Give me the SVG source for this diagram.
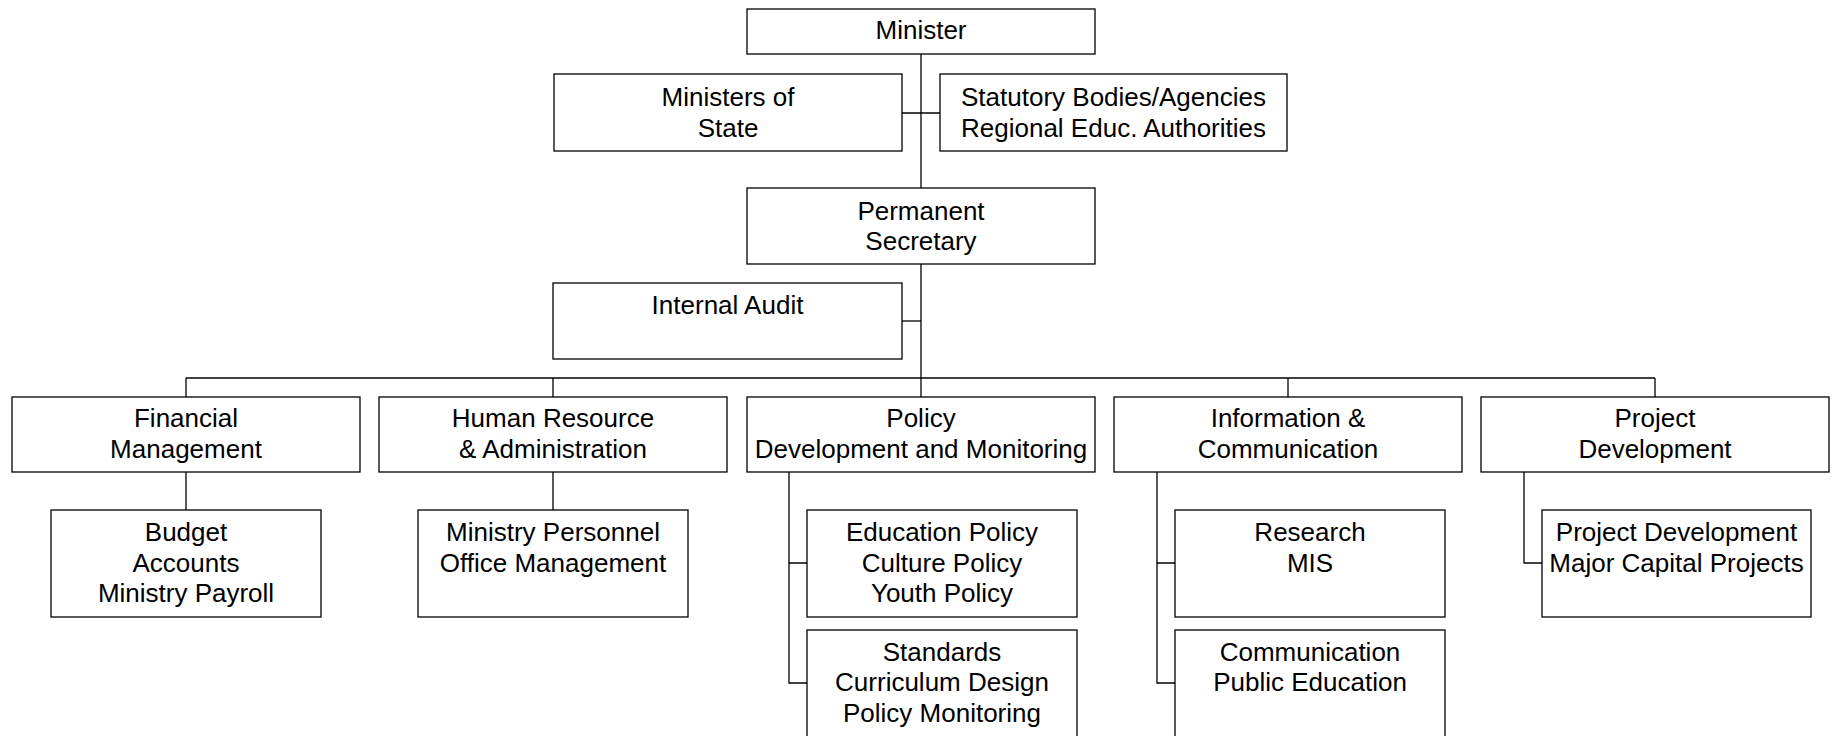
<svg xmlns="http://www.w3.org/2000/svg" width="1834" height="736" viewBox="0 0 1834 736">
<style>
  rect.box { fill: #ffffff; stroke: #000000; stroke-width: 1.3; }
  text { font-family: "Liberation Sans", Arial, sans-serif; font-size: 26px; fill: #000000; text-anchor: middle; }
  .conn path { fill: none; stroke: #000000; stroke-width: 1.3; }
</style>
<rect x="0" y="0" width="1834" height="736" fill="#ffffff"/>
<g class="conn" id="connectors">
  <path d="M921,54 V397"/>
  <path d="M902,113 H940"/>
  <path d="M902,321 H921"/>
  <path d="M186,378 H1655"/>
  <path d="M186,378 V397"/>
  <path d="M553,378 V397"/>
  <path d="M1288,378 V397"/>
  <path d="M1655,378 V397"/>
  <path d="M186,472 V510"/>
  <path d="M553,472 V510"/>
  <path d="M807,563 H789 V683 H807"/>
  <path d="M1175,563 H1157 V683 H1175"/>
  <path d="M1524,472 V563 H1542"/>
  <path d="M789,472 V563"/>
  <path d="M1157,472 V563"/>
</g>
<g id="minister"><rect class="box" x="747" y="9" width="348" height="45"/><text x="921" y="39">Minister</text></g>
<g id="ministers-of-state"><rect class="box" x="554" y="74" width="348" height="77"/><text x="728" y="106">Ministers of</text><text x="728" y="137">State</text></g>
<g id="statutory"><rect class="box" x="940" y="74" width="347" height="77"/><text x="1113.5" y="106">Statutory Bodies/Agencies</text><text x="1113.5" y="137">Regional Educ. Authorities</text></g>
<g id="permanent-secretary"><rect class="box" x="747" y="188" width="348" height="76"/><text x="921" y="220">Permanent</text><text x="921" y="250">Secretary</text></g>
<g id="internal-audit"><rect class="box" x="553" y="283" width="349" height="76"/><text x="727.5" y="314">Internal Audit</text></g>
<g id="financial"><rect class="box" x="12" y="397" width="348" height="75"/><text x="186" y="427">Financial</text><text x="186" y="458">Management</text></g>
<g id="hr"><rect class="box" x="379" y="397" width="348" height="75"/><text x="553" y="427">Human Resource</text><text x="553" y="458">&amp; Administration</text></g>
<g id="policy"><rect class="box" x="747" y="397" width="348" height="75"/><text x="921" y="427">Policy</text><text x="921" y="458">Development and Monitoring</text></g>
<g id="info"><rect class="box" x="1114" y="397" width="348" height="75"/><text x="1288" y="427">Information &amp;</text><text x="1288" y="458">Communication</text></g>
<g id="project"><rect class="box" x="1481" y="397" width="348" height="75"/><text x="1655" y="427">Project</text><text x="1655" y="458">Development</text></g>
<g id="budget"><rect class="box" x="51" y="510" width="270" height="107"/><text x="186" y="541">Budget</text><text x="186" y="572">Accounts</text><text x="186" y="602">Ministry Payroll</text></g>
<g id="personnel"><rect class="box" x="418" y="510" width="270" height="107"/><text x="553" y="541">Ministry Personnel</text><text x="553" y="572">Office Management</text></g>
<g id="edu-policy"><rect class="box" x="807" y="510" width="270" height="107"/><text x="942" y="541">Education Policy</text><text x="942" y="572">Culture Policy</text><text x="942" y="602">Youth Policy</text></g>
<g id="standards"><rect class="box" x="807" y="630" width="270" height="110"/><text x="942" y="661">Standards</text><text x="942" y="691">Curriculum Design</text><text x="942" y="722">Policy Monitoring</text></g>
<g id="research"><rect class="box" x="1175" y="510" width="270" height="107"/><text x="1310" y="541">Research</text><text x="1310" y="572">MIS</text></g>
<g id="communication"><rect class="box" x="1175" y="630" width="270" height="110"/><text x="1310" y="661">Communication</text><text x="1310" y="691">Public Education</text></g>
<g id="project-dev"><rect class="box" x="1542" y="510" width="269" height="107"/><text x="1676.5" y="541">Project Development</text><text x="1676.5" y="572">Major Capital Projects</text></g>
</svg>
